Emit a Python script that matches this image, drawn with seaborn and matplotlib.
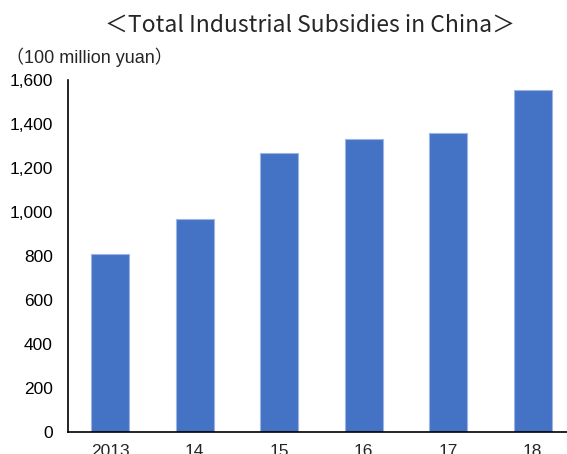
import matplotlib
matplotlib.use("Agg")
import matplotlib.pyplot as plt
import seaborn as sns
import numpy as np
import pandas as pd

years = ["2013", "14", "15", "16", "17", "18"]
subsidies = [810, 968, 1270, 1332, 1357, 1555]
y_ticks = [0, 200, 400, 600, 800, 1000, 1200, 1400, 1600]
y_tick_labels = ["0", "200", "400", "600", "800", "1,000", "1,200", "1,400", "1,600"]
title = "＜Total Industrial Subsidies in China＞"
unit_label = "（100 million yuan）"

sns.set_style("white")
plt.rcParams["font.family"] = ["Liberation Sans", "Noto Sans CJK JP", "DejaVu Sans"]

df = pd.DataFrame({"year": years, "value": subsidies})

fig = plt.figure(figsize=(5.67, 4.54), dpi=100)
W, H = 567, 454
ax = fig.add_axes([68 / W, 22 / H, (575 - 68) / W, (432 - 80) / H])

sns.barplot(data=df, x="year", y="value", color="#4472C4", saturation=1,
            width=0.45, edgecolor="#9DB5E3", linewidth=0.8, ax=ax)

ax.set_xlim(-0.5, len(years) - 0.5)
ax.set_ylim(0, 1600)
ax.set_yticks(y_ticks)
ax.set_yticklabels(y_tick_labels, fontsize=12.5)
ax.tick_params(axis="y", direction="in", length=5, width=1.2, pad=11, colors="black")
ax.set_xticks(range(len(years)))
ax.set_xticklabels(years, fontsize=12.5)
ax.set_xticks(np.arange(-0.5, len(years), 1.0), minor=True)
ax.tick_params(axis="x", which="major", length=0, pad=9)
ax.tick_params(axis="x", which="minor", direction="out", length=6, width=1.2, colors="black")
ax.set_xlabel("")
ax.set_ylabel("")

for side in ["top", "right"]:
    ax.spines[side].set_visible(False)
for side in ["left", "bottom"]:
    ax.spines[side].set_color("black")
    ax.spines[side].set_linewidth(1.2)

fig.text(310 / W, 1 - 25 / H, title, ha="center", va="center", fontsize=16.5,
         family=["Noto Sans CJK JP", "DejaVu Sans"])
fig.text(6 / W, 1 - 57 / H, unit_label, ha="left", va="center", fontsize=13)

fig.savefig("out.png", dpi=100)
